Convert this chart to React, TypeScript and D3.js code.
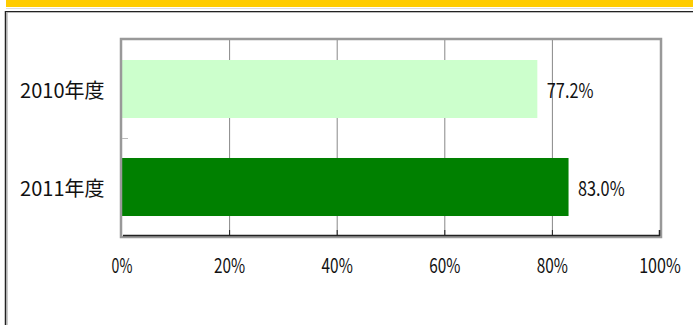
import React from "react";
import * as d3 from "d3";

const categories = ["2010年度", "2011年度"];
const values = [77.2, 83.0];
const valueLabels = ["77.2%", "83.0%"];
const barColors = ["#CCFFCC", "#008000"];
const xTicks = [0, 20, 40, 60, 80, 100];

const W = 693;
const H = 325;
const plot = { left: 122, right: 660, top: 40, bottom: 236 };
const font = "'Noto Sans CJK JP', 'DejaVu Sans Condensed', sans-serif";
const FS = 20;

// width of a label in a half-width gothic style: ascii ~0.52em, '.' ~0.25em, CJK ~1.07em
function labelWidth(s: string): number {
  let w = 0;
  for (const ch of s) {
    if (ch === ".") w += 5;
    else if (ch.charCodeAt(0) > 255) w += 21.4;
    else w += 10.4;
  }
  return w;
}

function Label(props: {
  x: number;
  y: number;
  text: string;
  anchor?: "start" | "middle" | "end";
}) {
  return (
    <text
      x={props.x}
      y={props.y}
      textAnchor={props.anchor || "start"}
      dominantBaseline="central"
      fontFamily={font}
      fontSize={FS}
      fill="#111"
      textLength={labelWidth(props.text)}
      lengthAdjust="spacingAndGlyphs"
    >
      {props.text}
    </text>
  );
}

export default function App() {
  const x = d3.scaleLinear().domain([0, 100]).range([plot.left, plot.right]);
  const y = d3
    .scaleBand<string>()
    .domain(categories)
    .range([plot.top, plot.bottom])
    .paddingInner(0.408)
    .paddingOuter(0.204);
  const step = y.step();

  return (
    <svg
      width={W}
      height={H}
      style={{ position: "absolute", left: 0, top: 0, background: "#fff" }}
    >
      {/* header band */}
      <rect x={6} y={0} width={W - 6} height={7} fill="#FFCC00" />
      <line x1={6} x2={W} y1={8.5} y2={8.5} stroke="#ddd" strokeWidth={1} />
      {/* outer frame */}
      <line x1={5} x2={W} y1={11.5} y2={11.5} stroke="#222" strokeWidth={1} />
      <line x1={7} x2={W} y1={12.5} y2={12.5} stroke="#bbb" strokeWidth={1} />
      <line x1={5.5} x2={5.5} y1={11} y2={H} stroke="#222" strokeWidth={1.5} />
      <line x1={7} x2={7} y1={12} y2={H} stroke="#999" strokeWidth={1} />

      {/* gridlines */}
      {xTicks.slice(1, -1).map((t) => (
        <line
          key={"g" + t}
          x1={x(t)}
          x2={x(t)}
          y1={plot.top}
          y2={plot.bottom}
          stroke="#888"
          strokeWidth={1}
        />
      ))}

      {/* bars */}
      {categories.map((c, i) => (
        <rect
          key={c}
          x={x(0)}
          y={y(c)!}
          width={x(values[i]) - x(0)}
          height={y.bandwidth()}
          fill={barColors[i]}
        />
      ))}

      {/* plot border */}
      <rect
        x={plot.left - 1}
        y={plot.top - 1}
        width={plot.right - plot.left + 2}
        height={plot.bottom - plot.top + 2}
        fill="none"
        stroke="#999"
        strokeWidth={2.5}
      />
      <line
        x1={plot.left + 1}
        x2={plot.right}
        y1={plot.bottom - 0.5}
        y2={plot.bottom - 0.5}
        stroke="#222"
        strokeWidth={1.5}
      />
      <line
        x1={plot.right - 0.5}
        x2={plot.right - 0.5}
        y1={plot.bottom - 6}
        y2={plot.bottom}
        stroke="#222"
        strokeWidth={1.5}
      />
      {/* x ticks */}
      {xTicks.slice(1, -1).map((t) => (
        <line
          key={"t" + t}
          x1={x(t)}
          x2={x(t)}
          y1={plot.bottom - 6}
          y2={plot.bottom}
          stroke="#222"
          strokeWidth={1}
        />
      ))}
      {/* y category separator tick */}
      <line
        x1={plot.left}
        x2={plot.left + 6}
        y1={plot.top + step + 0.5}
        y2={plot.top + step + 0.5}
        stroke="#bbb"
        strokeWidth={1}
      />

      {/* category labels */}
      {categories.map((c) => (
        <Label key={"l" + c} x={104.5} y={y(c)! + y.bandwidth() / 2} text={c} anchor="end" />
      ))}

      {/* value labels */}
      {categories.map((c, i) => (
        <Label key={"v" + c} x={x(values[i]) + 9.5} y={y(c)! + y.bandwidth() / 2} text={valueLabels[i]} />
      ))}

      {/* x tick labels */}
      {xTicks.map((t) => (
        <Label key={"x" + t} x={x(t)} y={264} text={t + "%"} anchor="middle" />
      ))}
    </svg>
  );
}
